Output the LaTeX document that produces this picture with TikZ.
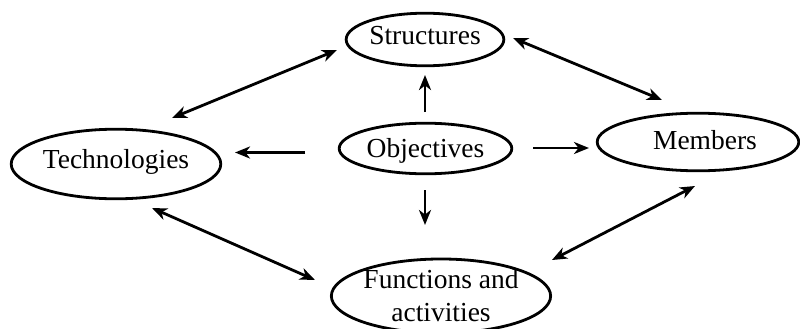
\documentclass[tikz,border=0pt]{standalone}
\usepackage{fontspec}
\setmainfont{Liberation Serif}
\usetikzlibrary{shapes.geometric,arrows.meta}
\begin{document}
\begin{tikzpicture}[x=1pt,y=-1pt,
  oval/.style={draw=black, line width=2.8pt, ellipse, inner sep=0pt,
    font=\fontsize{27.5}{33}\selectfont},
  link/.style={line width=2.8pt, black,
    arrows={-Stealth[length=15pt,width=12pt,inset=4.5pt]}},
  dlink/.style={link, arrows={Stealth[length=15pt,width=12pt,inset=4.5pt]-Stealth[length=15pt,width=12pt,inset=4.5pt]}}]
\useasboundingbox (0,0) rectangle (800,329);
\fill[white] (0,0) rectangle (800,329);
\node[oval, minimum width=151.6pt, minimum height=52.6pt, text height=19pt, text depth=9pt] (struct) at (425,39.5) {Structures};
\node[oval, minimum width=172.6pt, minimum height=50.6pt, text height=19pt, text depth=2pt] (obj) at (425.5,148.5) {Objectives};
\node[oval, minimum width=209.6pt, minimum height=69.6pt, text height=19pt, text depth=11pt] (tech) at (116,164) {Technologies};
\node[oval, minimum width=201.6pt, minimum height=57.6pt, text height=19pt, text depth=4pt] (memb) at (698,142) {\hspace*{14pt}Members};
\node[oval, minimum width=213.6pt, minimum height=70pt, align=center] (func) at (441,296) {Functions and\\activities};
% connector ends
\coordinate (t1) at (172,118); \coordinate (s1) at (337,50);
\coordinate (s2) at (513,38);  \coordinate (m1) at (662,100);
\coordinate (o1) at (425,112); \coordinate (s3) at (425,75);
\coordinate (o2) at (305,152.5); \coordinate (t2) at (235,152.5);
\coordinate (o3) at (533,148); \coordinate (m2) at (589,148);
\coordinate (o4) at (425,190); \coordinate (f1) at (425,225);
\coordinate (t3) at (152,208); \coordinate (f2) at (315,280);
\coordinate (m3) at (695,186); \coordinate (f3) at (552,260);
\draw[dlink] (t1) -- (s1);
\draw[dlink] (s2) -- (m1);
\draw[link] (o1) -- (s3);
\draw[link] (o2) -- (t2);
\draw[link] (o3) -- (m2);
\draw[link] (o4) -- (f1);
\draw[dlink] (t3) -- (f2);
\draw[dlink] (m3) -- (f3);
\end{tikzpicture}
\end{document}
